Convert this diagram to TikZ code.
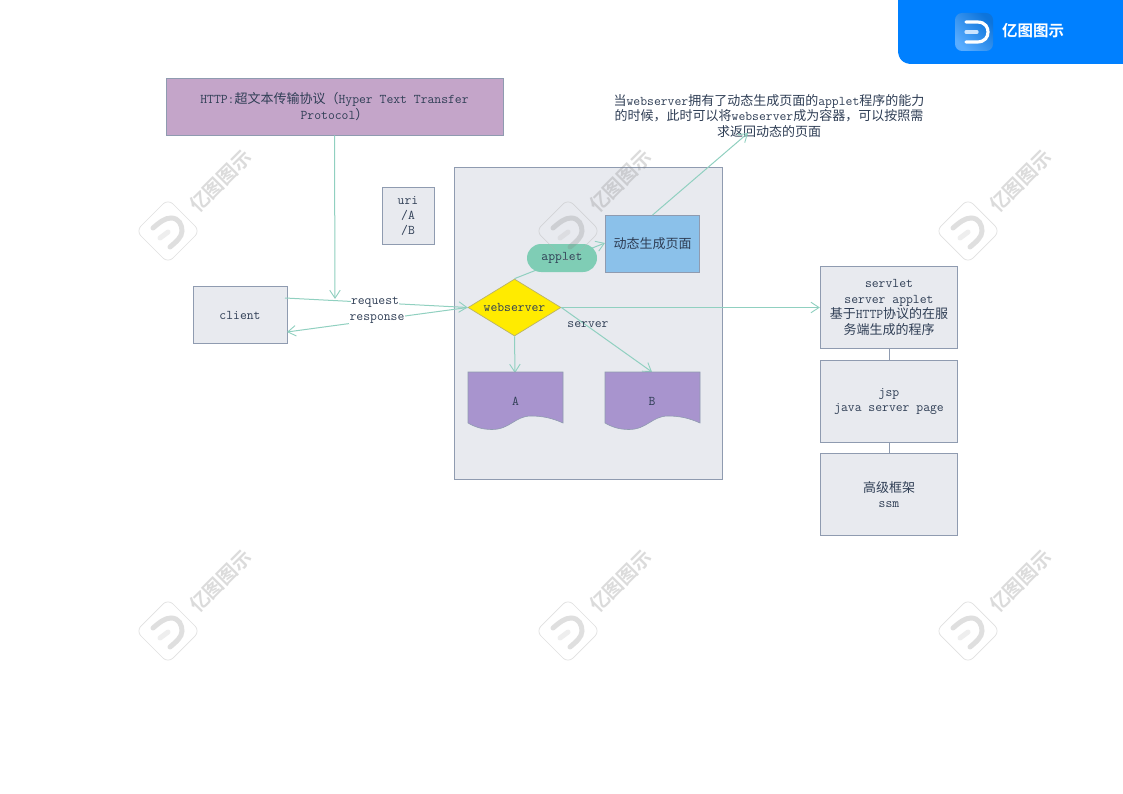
\documentclass[tikz,border=0pt]{standalone}
\usepackage{fontspec}
\newfontfamily\cjk{Noto Sans CJK SC}
\newfontfamily\cjkb{Noto Sans CJK SC}[BoldFont={Noto Sans CJK SC Bold}]
\usetikzlibrary{arrows.meta,positioning,calc,shapes.geometric}
\newcommand{\C}[1]{{\fontsize{13}{15.5}\selectfont\cjk #1}}
\definecolor{boxfill}{HTML}{E8EAEF}
\definecolor{boxline}{HTML}{8F9BB0}
\definecolor{conn}{HTML}{90D0C0}
\definecolor{ink}{HTML}{2F3E55}
\definecolor{httpfill}{HTML}{C4A5C9}
\definecolor{bluefill}{HTML}{8BC1EA}
\definecolor{appletfill}{HTML}{7FCDB5}
\definecolor{docfill}{HTML}{A894CE}
\definecolor{banner}{HTML}{0080FF}
\definecolor{diamondline}{HTML}{B9B26A}
\definecolor{diamondfill}{HTML}{FFEB00}
\tikzset{
  x=1pt,y=-1pt,
  every node/.style={text=ink,font=\fontsize{13.3}{15.5}\selectfont\ttfamily,align=center,inner sep=0pt},
  sized/.style 2 args={minimum width=#1,minimum height=#2,anchor=center},
  plainbox/.style={draw=boxline,fill=boxfill,line width=.9pt},
  link/.style={draw=conn,line width=1pt,-{Straight Barb[length=8pt,width=10.5pt,line width=.9pt]}},
  bare/.style={draw=boxline,line width=.9pt},
  lbl/.style={fill=white,inner sep=.5pt},
  wmtext/.style={rotate=45,text=black!50,opacity=.28,font=\fontsize{19.5}{20}\selectfont\cjkb\bfseries},
  wmpic/.pic={
    \draw[black!30,opacity=.4,line width=.7pt,rounded corners=7pt]
      (-32,0)--(0,-32)--(32,0)--(0,32)--cycle;
    \draw[black!50,opacity=.25,line width=5pt,line cap=round]
      (-15,-3) .. controls (-8,-9) and (-3,-13) .. (3,-13)
      .. controls (11,-13) and (14,-6) .. (14,0)
      .. controls (14,6) and (8,11) .. (2,16);
    \draw[black!30,opacity=.22,line width=5pt,line cap=round] (-8,7)--(0,1);
    \node[wmtext] at (52.5,-50) {亿图图示};
  }
}
\begin{document}
\begin{tikzpicture}
\useasboundingbox (0,0) rectangle (1123,794);
\fill[white] (0,0) rectangle (1123,794);
% banner
\fill[banner] (898,0) -- (1123,0) -- (1123,64) -- (912,64)
  .. controls (903,64) and (898,59) .. (898,50) -- cycle;
\shade[left color=banner!65!white,right color=banner!85!black!95!white,rounded corners=7pt,shading angle=135,draw=none]
  (955,13) rectangle (993,51);
\draw[white,line width=3.2pt,line cap=round] (966,22) -- (977,22) .. controls (986,22) and (988,28) .. (988,32)
  .. controls (988,37) and (985,42) .. (977,42) -- (966,42);
\draw[white!80!banner,line width=3.2pt,line cap=round] (966,32) -- (977,32);
\node[text=white,font=\fontsize{15.5}{18}\selectfont\cjkb\bfseries] (brand) at (1033,31) {亿图图示};

% container
\node[plainbox,sized={268pt}{312pt}] (container) at (588,323) {};

% boxes
\node[plainbox,fill=httpfill,sized={337pt}{57pt}] (http) at (334.5,106.5)
  {HTTP:\C{超文本传输协议（}Hyper Text Transfer\\Protocol\C{）}};
\node[plainbox,sized={52pt}{57pt}] (uri) at (408,216) {\raisebox{-1pt}{uri}\\\raisebox{-.5pt}{/A}\\/B};
\node[plainbox,sized={94pt}{57pt}] (client) at (240,315) {client};
\node[plainbox,fill=bluefill,sized={94.5pt}{57pt}] (page) at (652.5,244) {\C{动态生成页面}};
\node[draw=none,fill=none] (note) at (769,116)
  {\C{当}webserver\C{拥有了动态生成页面的}applet\C{程序的能力}\\
   \C{的时候，此时可以将}webserver\C{成为容器，可以按照需}\\
   \C{求返回动态的页面}};
\node[plainbox,sized={137.5pt}{82.5pt}] (servlet) at (889,307.5)
  {servlet\\server applet\\\C{基于}HTTP\C{协议的在服}\\\C{务端生成的程序}};
\node[plainbox,sized={137.5pt}{82.5pt}] (jsp) at (889,401.5) {jsp\\java server page};
\node[plainbox,sized={137.5pt}{82.5pt}] (high) at (889,494.5) {\C{高级框架}\\ssm};

% free ends of connectors
\coordinate (httpEnd) at (335,299);
\coordinate (reqStart) at (285,298);
\coordinate (respEnd) at (287,332);
\coordinate (noteEnd) at (748,133);
\coordinate (aTop) at (515,373);
\coordinate (bTop) at (652,372);
\coordinate (pageIn) at (605,243);

\node[draw=diamondline,fill=diamondfill,diamond,aspect=1.63,minimum width=93pt,minimum height=57pt,line width=.7pt] (web) at (514.5,307.5) {webserver};

% connectors
\draw[link] (http.south) -- (httpEnd);
\draw[link] (reqStart) -- (web.west);
\draw[link] (web.west) -- (respEnd);
\draw[link] (web.north) -- (pageIn);
\draw[link] (web.east) -- (bTop);
\draw[link] (web.south) -- (aTop);
\draw[link] (page.north) -- (noteEnd);
\draw[link] (web.east) -- (servlet.west);
\draw[bare] (servlet.south) -- (jsp.north);
\draw[bare] (jsp.south) -- (high.north);

% applet over its connector
\node[fill=appletfill,rounded corners=14pt,sized={70pt}{28pt}] (applet) at (562,258) {\raisebox{-1.5pt}{applet}};

% documents
\path[draw=boxline,fill=docfill,line width=.6pt] (468,372) -- (563,372) -- (563,423)
  .. controls (552,418) and (542,416) .. (531,416)
  .. controls (515,416) and (510,429.5) .. (492,429.5)
  .. controls (482,429.5) and (475,427) .. (468,423) -- cycle;
\node (docA) at (515.5,401) {A};
\path[draw=boxline,fill=docfill,line width=.6pt] (605,372) -- (700,372) -- (700,423)
  .. controls (689,418) and (679,416) .. (668,416)
  .. controls (652,416) and (647,429.5) .. (629,429.5)
  .. controls (619,429.5) and (612,427) .. (605,423) -- cycle;
\node (docB) at (652,401) {B};

% labels
\node[lbl] (reqLbl) at (375,302.5) {request};
\node[lbl] (respLbl) at (377,319) {response};
\node (serverLbl) at (588,325) {server};

% watermarks
\foreach \wx/\wy in {168/231,568/231,968/231,168/631,568/631,968/631}
  \pic at (\wx,\wy) {wmpic};
\end{tikzpicture}
\end{document}
